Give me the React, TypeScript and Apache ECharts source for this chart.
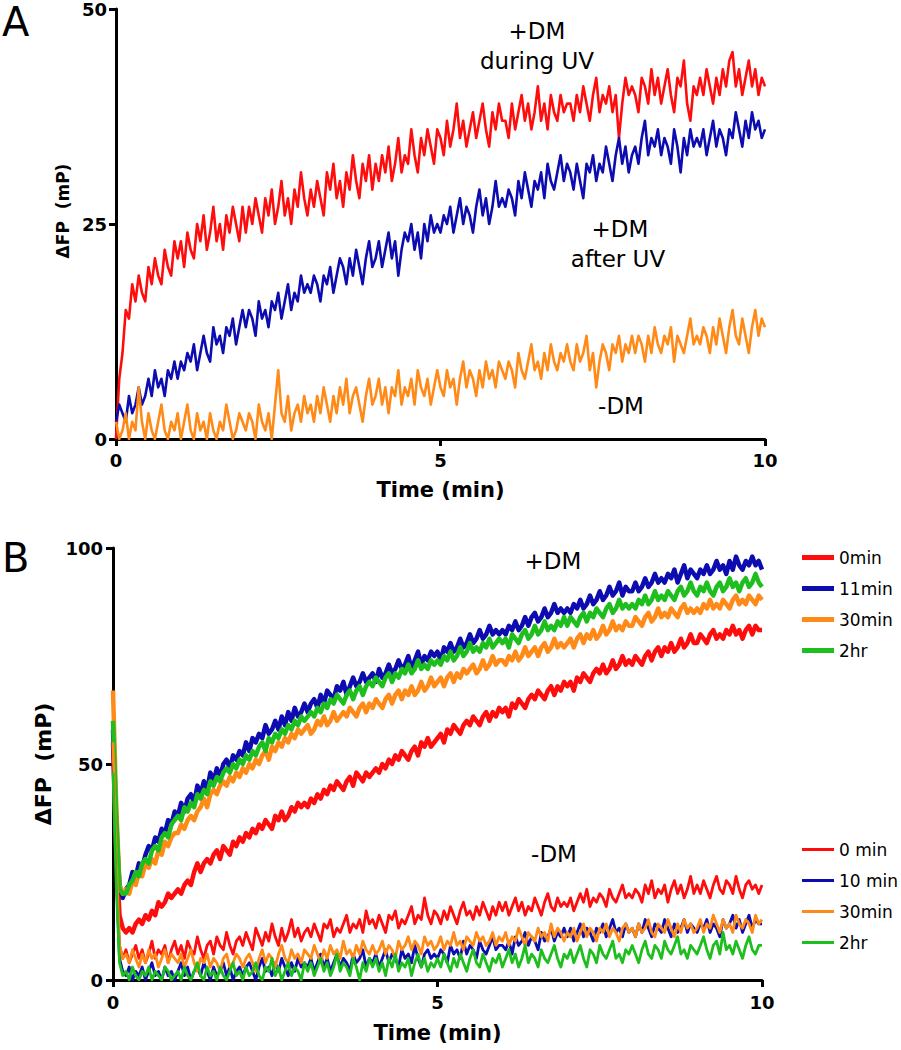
import React, { useEffect, useRef } from "react";
import * as echarts from "echarts";

// Sampling grid of the traces (minutes between readings)
const STEP_MIN = 0.05;

// Axis ticks
const X_TICKS_MIN = [0, 5, 10];
const A_Y_TICKS = [0, 25, 50];
const B_Y_TICKS = [0, 50, 100];

// ---------- Panel A : ΔFP (mP) traces, t = 0 .. 10 min (one row = 1 min) ----------
const A_DURING_UV = [
  0, 7, 10, 15, 14, 18, 16, 19, 17, 16, 20, 18, 21, 19, 18, 22, 20, 19, 23, 21,
  23, 20, 24, 22, 21, 25, 23, 26, 22, 24, 27, 23, 25, 22, 26, 24, 27, 25, 23, 27,
  24, 27, 25, 28, 26, 24, 28, 26, 29, 25, 27, 30, 26, 28, 25, 29, 27, 31, 28, 26,
  29, 27, 30, 28, 26, 31, 29, 32, 28, 30, 27, 31, 29, 33, 30, 28, 32, 30, 33, 29,
  32, 30, 33, 31, 34, 30, 32, 35, 31, 33, 32, 36, 33, 31, 35, 33, 36, 34, 32, 36,
  35, 33, 37, 34, 36, 39, 35, 37, 34, 36, 38, 35, 37, 39, 36, 34, 38, 36, 39, 37,
  37, 35, 39, 36, 38, 40, 37, 39, 36, 38, 41, 37, 39, 36, 40, 38, 37, 40, 38, 39,
  39, 37, 40, 38, 41, 39, 37, 40, 42, 38, 40, 39, 41, 38, 40, 35, 39, 42, 40, 41,
  40, 38, 42, 41, 39, 43, 40, 42, 39, 41, 43, 40, 38, 42, 41, 44, 39, 37, 41, 40,
  42, 40, 43, 41, 39, 42, 40, 43, 41, 44, 45, 41, 43, 40, 42, 44, 41, 43, 40, 42,
  41,
];
const A_AFTER_UV = [
  2, 4, 3, 2, 5, 3, 4, 6, 4, 5, 7, 5, 8, 6, 7, 5, 8, 7, 9, 7,
  9, 8, 10, 9, 11, 8, 10, 12, 10, 9, 13, 11, 12, 10, 13, 12, 14, 11, 13, 15,
  13, 15, 14, 12, 16, 14, 15, 13, 16, 15, 17, 14, 16, 18, 15, 17, 16, 19, 17, 18,
  17, 19, 18, 16, 19, 18, 20, 17, 19, 21, 20, 18, 21, 19, 22, 20, 18, 21, 23, 20,
  21, 23, 20, 22, 24, 21, 23, 19, 22, 24, 23, 25, 22, 24, 21, 25, 23, 26, 24, 25,
  24, 26, 25, 27, 24, 26, 28, 25, 27, 26, 24, 27, 29, 26, 28, 25, 27, 30, 27, 28,
  27, 29, 28, 26, 30, 28, 31, 29, 27, 30, 29, 31, 28, 32, 30, 29, 31, 33, 30, 32,
  31, 29, 32, 30, 28, 32, 31, 33, 30, 32, 31, 34, 32, 30, 33, 35, 32, 34, 31, 33,
  34, 32, 35, 37, 33, 35, 34, 36, 33, 35, 34, 32, 36, 34, 31, 35, 33, 36, 34, 35,
  34, 36, 33, 35, 37, 34, 36, 35, 33, 36, 35, 38, 36, 34, 37, 35, 38, 36, 37, 35,
  36,
];
const A_NO_DM = [
  2, 0, 1, 3, 0, 2, 1, 6, 2, 0, 3, 1, 0, 2, 4, 1, 0, 2, 1, 3,
  0, 2, 4, 1, 0, 3, 1, 2, 0, 3, 1, 0, 2, 1, 4, 2, 0, 1, 3, 2,
  1, 3, 2, 0, 4, 2, 1, 3, 0, 4, 8, 3, 2, 5, 1, 3, 4, 2, 5, 3,
  4, 2, 5, 3, 6, 4, 2, 5, 3, 6, 4, 7, 3, 5, 6, 4, 2, 5, 7, 4,
  5, 7, 4, 6, 3, 6, 5, 8, 4, 6, 5, 7, 4, 8, 6, 5, 7, 4, 6, 8,
  6, 5, 8, 6, 7, 4, 7, 9, 6, 8, 7, 5, 8, 6, 9, 7, 8, 6, 9, 8,
  7, 9, 8, 6, 10, 8, 7, 9, 11, 8, 9, 7, 10, 8, 11, 9, 8, 10, 9, 11,
  9, 8, 11, 9, 10, 12, 8, 10, 6, 9, 11, 10, 8, 11, 10, 12, 9, 11, 10, 12,
  10, 12, 11, 9, 12, 10, 13, 11, 10, 12, 11, 13, 9, 12, 11, 10, 12, 14, 11, 12,
  11, 13, 12, 10, 13, 11, 14, 12, 10, 13, 15, 12, 11, 14, 12, 10, 13, 15, 12, 14,
  13,
];

// ---------- Panel B : +DM traces ----------
const B_DM_0MIN = [
  55, 30, 15, 12, 11, 12, 11, 13, 14, 13, 15, 14, 16, 15, 18, 17, 18, 20, 19, 20,
  21, 20, 22, 23, 22, 25, 27, 25, 27, 28, 27, 29, 30, 28, 31, 30, 29, 32, 31, 33,
  32, 34, 33, 35, 34, 36, 35, 37, 36, 35, 38, 37, 39, 37, 38, 40, 39, 41, 40, 41,
  40, 42, 41, 43, 42, 44, 43, 45, 44, 46, 45, 44, 46, 47, 45, 48, 47, 46, 48, 47,
  48, 49, 48, 50, 49, 51, 50, 52, 51, 53, 52, 51, 53, 54, 52, 55, 54, 56, 54, 55,
  56, 57, 55, 58, 57, 59, 58, 57, 59, 60, 59, 61, 60, 59, 61, 62, 60, 62, 61, 63,
  62, 63, 61, 64, 63, 65, 64, 63, 65, 66, 65, 67, 66, 65, 67, 68, 66, 68, 67, 69,
  68, 69, 67, 70, 69, 71, 70, 69, 71, 72, 71, 73, 71, 72, 74, 72, 73, 75, 73, 74,
  73, 75, 74, 73, 75, 76, 74, 76, 77, 75, 77, 76, 78, 76, 77, 79, 77, 78, 80, 78,
  78, 80, 79, 78, 80, 81, 79, 80, 79, 81, 80, 82, 80, 81, 79, 81, 82, 80, 82, 81,
  81,
];
const B_DM_11MIN = [
  58, 35, 22, 19, 21, 22, 25, 24, 27, 26, 29, 31, 30, 33, 32, 35, 34, 37, 36, 39,
  38, 41, 39, 42, 43, 41, 45, 43, 46, 44, 48, 46, 49, 47, 50, 51, 49, 52, 51, 53,
  52, 55, 53, 56, 55, 57, 56, 59, 57, 58, 60, 58, 61, 59, 62, 60, 63, 61, 62, 64,
  62, 64, 65, 63, 66, 64, 67, 66, 65, 68, 67, 69, 66, 68, 70, 68, 69, 71, 69, 70,
  71, 69, 72, 70, 71, 73, 71, 72, 74, 72, 73, 75, 72, 74, 76, 73, 75, 74, 76, 75,
  76, 74, 77, 76, 78, 76, 77, 79, 77, 78, 80, 78, 79, 81, 79, 80, 82, 80, 81, 80,
  81, 80, 82, 81, 83, 81, 82, 84, 82, 84, 85, 83, 84, 86, 84, 85, 87, 85, 86, 85,
  86, 85, 87, 86, 88, 86, 87, 89, 87, 88, 90, 88, 89, 91, 89, 90, 92, 89, 91, 90,
  90, 92, 90, 91, 93, 91, 92, 94, 92, 93, 92, 94, 93, 95, 92, 94, 96, 93, 95, 94,
  93, 95, 94, 96, 94, 95, 97, 95, 96, 94, 97, 95, 98, 96, 95, 97, 96, 98, 96, 97,
  95,
];
const B_DM_30MIN = [
  67, 40, 22, 20, 21, 20, 23, 22, 25, 24, 27, 26, 28, 27, 30, 29, 32, 31, 33, 34,
  34, 36, 35, 37, 38, 37, 39, 40, 42, 40, 43, 44, 43, 45, 46, 45, 47, 46, 48, 47,
  49, 48, 50, 49, 51, 50, 52, 53, 51, 54, 53, 55, 54, 56, 55, 57, 56, 58, 57, 58,
  59, 57, 58, 60, 59, 61, 59, 60, 62, 60, 61, 62, 61, 63, 62, 61, 63, 64, 62, 64,
  63, 65, 64, 63, 65, 66, 64, 66, 67, 65, 67, 66, 68, 66, 67, 69, 67, 68, 70, 68,
  69, 70, 68, 70, 71, 69, 71, 70, 72, 71, 72, 73, 71, 72, 74, 72, 73, 75, 73, 74,
  74, 73, 75, 74, 76, 74, 75, 77, 75, 76, 77, 75, 77, 78, 76, 77, 79, 77, 78, 77,
  78, 79, 77, 79, 80, 78, 80, 79, 81, 79, 80, 82, 80, 81, 83, 81, 82, 81, 83, 82,
  82, 84, 83, 82, 84, 85, 83, 84, 86, 84, 85, 84, 86, 85, 84, 86, 87, 85, 86, 85,
  86, 85, 87, 86, 88, 86, 87, 86, 88, 87, 86, 88, 89, 87, 88, 87, 89, 88, 87, 89,
  88,
];
const B_DM_2HR = [
  60, 38, 21, 20, 20, 22, 23, 25, 24, 27, 28, 27, 30, 31, 30, 33, 34, 33, 36, 37,
  38, 37, 40, 39, 41, 40, 43, 42, 44, 43, 46, 45, 47, 46, 48, 49, 48, 50, 49, 51,
  50, 52, 51, 53, 52, 54, 55, 53, 56, 55, 57, 56, 58, 57, 59, 58, 60, 59, 61, 60,
  61, 62, 61, 63, 62, 64, 63, 65, 64, 66, 65, 64, 66, 67, 65, 67, 68, 66, 68, 69,
  68, 70, 69, 68, 70, 71, 69, 71, 70, 72, 71, 73, 71, 72, 74, 72, 73, 72, 74, 73,
  74, 73, 75, 74, 76, 74, 75, 77, 75, 76, 78, 76, 77, 76, 78, 77, 79, 77, 78, 79,
  78, 79, 77, 80, 79, 78, 80, 81, 79, 80, 82, 80, 81, 83, 81, 82, 81, 83, 82, 84,
  82, 84, 83, 82, 84, 85, 83, 85, 84, 86, 85, 84, 86, 87, 85, 86, 88, 86, 87, 86,
  87, 86, 88, 87, 89, 87, 88, 90, 88, 89, 88, 90, 89, 88, 90, 91, 89, 90, 92, 90,
  89, 91, 90, 92, 90, 89, 91, 92, 90, 91, 93, 91, 92, 90, 92, 93, 91, 92, 94, 92,
  91,
];

// ---------- Panel B : -DM traces ----------
const B_NODM_0MIN = [
  52, 25, 8, 5, 7, 4, 6, 8, 5, 7, 4, 6, 9, 5, 7, 6, 8, 4, 7, 9,
  6, 8, 5, 9, 7, 6, 10, 7, 5, 8, 9, 6, 10, 8, 7, 11, 8, 6, 9, 10,
  8, 11, 9, 7, 12, 10, 8, 11, 9, 13, 10, 8, 12, 9, 11, 14, 10, 12, 9, 11,
  12, 10, 13, 11, 9, 13, 12, 14, 10, 12, 11, 13, 15, 11, 13, 12, 14, 11, 16, 13,
  14, 12, 15, 13, 11, 15, 14, 16, 12, 14, 13, 15, 17, 13, 15, 14, 19, 15, 13, 16,
  15, 13, 16, 14, 17, 15, 13, 16, 18, 15, 16, 14, 17, 15, 18, 16, 14, 17, 15, 18,
  16, 18, 15, 17, 19, 16, 18, 15, 17, 16, 19, 17, 15, 18, 20, 17, 16, 19, 17, 18,
  17, 19, 16, 18, 20, 18, 21, 17, 19, 18, 20, 19, 17, 21, 19, 18, 20, 22, 19, 20,
  19, 21, 20, 18, 22, 20, 23, 19, 21, 20, 22, 18, 21, 23, 20, 22, 19, 21, 24, 20,
  22, 20, 23, 21, 19, 22, 24, 21, 20, 23, 22, 20, 24, 21, 19, 22, 23, 21, 22, 20,
  22,
];
const B_NODM_10MIN = [
  50, 25, 5, 2, 1, 3, 0, 2, 1, 3, 0, 2, 4, 1, 2, 0, 3, 1, 2, 0,
  2, 4, 1, 3, 0, 2, 3, 1, 4, 2, 0, 3, 1, 2, 4, 1, 3, 0, 2, 3,
  1, 3, 4, 2, 0, 3, 5, 2, 3, 1, 4, 2, 5, 3, 1, 4, 2, 5, 3, 4,
  3, 5, 2, 4, 6, 3, 5, 2, 4, 6, 3, 5, 4, 2, 6, 4, 5, 7, 3, 5,
  4, 6, 3, 5, 7, 4, 6, 5, 3, 7, 5, 6, 4, 8, 5, 3, 6, 7, 5, 6,
  5, 7, 6, 4, 8, 6, 7, 5, 9, 6, 8, 7, 5, 9, 7, 6, 8, 10, 7, 8,
  8, 7, 9, 6, 10, 8, 9, 11, 8, 10, 9, 7, 11, 9, 10, 12, 9, 11, 10, 12,
  10, 12, 9, 11, 13, 10, 12, 11, 9, 12, 11, 13, 10, 12, 14, 11, 12, 10, 13, 11,
  12, 10, 13, 11, 14, 12, 10, 13, 12, 11, 14, 12, 10, 13, 11, 12, 14, 11, 13, 12,
  11, 13, 12, 14, 11, 13, 12, 10, 14, 12, 13, 15, 12, 14, 11, 13, 15, 12, 14, 13,
  13,
];
const B_NODM_30MIN = [
  55, 28, 8, 5, 6, 4, 7, 5, 3, 6, 4, 7, 5, 6, 3, 5, 7, 4, 6, 5,
  4, 6, 3, 5, 7, 4, 2, 5, 4, 6, 3, 5, 4, 2, 5, 6, 3, 4, 6, 5,
  3, 5, 6, 4, 2, 5, 7, 4, 6, 5, 3, 6, 8, 5, 4, 7, 5, 6, 4, 7,
  6, 5, 8, 6, 4, 7, 5, 8, 6, 7, 5, 9, 6, 7, 5, 8, 6, 9, 7, 6,
  8, 6, 7, 9, 6, 8, 7, 5, 9, 7, 8, 10, 7, 9, 8, 6, 10, 8, 9, 7,
  8, 10, 7, 9, 8, 11, 8, 9, 7, 10, 9, 8, 11, 9, 10, 8, 9, 11, 8, 10,
  9, 11, 8, 10, 9, 12, 10, 8, 11, 10, 9, 12, 10, 11, 9, 13, 10, 12, 11, 9,
  11, 10, 12, 9, 11, 13, 10, 12, 11, 9, 12, 11, 13, 10, 12, 11, 9, 12, 13, 11,
  12, 10, 13, 11, 12, 14, 11, 10, 13, 12, 11, 14, 12, 10, 13, 11, 14, 12, 13, 11,
  12, 14, 11, 13, 12, 15, 13, 11, 14, 12, 13, 11, 15, 13, 12, 14, 13, 11, 15, 13,
  14,
];
const B_NODM_2HR = [
  48, 22, 4, 1, 2, 0, 3, 1, 0, 2, 1, 3, 0, 2, 1, 0, 3, 2, 0, 1,
  2, 0, 3, 1, 0, 2, 4, 1, 0, 3, 1, 2, 0, 3, 1, 0, 2, 4, 1, 2,
  0, 3, 1, 2, 4, 1, 0, 3, 2, 5, 1, 3, 0, 2, 4, 1, 3, 2, 0, 4,
  2, 4, 1, 3, 5, 2, 4, 1, 3, 6, 2, 4, 3, 1, 5, 3, 0, 4, 2, 5,
  3, 5, 2, 4, 1, 5, 3, 6, 2, 4, 3, 5, 1, 4, 6, 3, 5, 2, 4, 3,
  5, 3, 6, 4, 2, 5, 3, 6, 4, 2, 5, 7, 4, 3, 6, 4, 2, 5, 4, 6,
  3, 5, 7, 4, 6, 3, 5, 8, 4, 6, 5, 3, 7, 5, 4, 6, 8, 5, 3, 6,
  5, 7, 4, 6, 8, 5, 3, 7, 6, 4, 8, 6, 5, 7, 9, 5, 6, 4, 7, 6,
  8, 6, 4, 7, 9, 6, 5, 8, 7, 5, 9, 7, 6, 8, 10, 6, 7, 5, 8, 7,
  6, 8, 10, 7, 5, 8, 9, 6, 11, 7, 8, 6, 9, 7, 5, 8, 10, 7, 6, 8,
  8,
];

const A_SERIES = [
  { name: "+DM during UV", values: A_DURING_UV, color: "#ff0d0d" },
  { name: "+DM after UV", values: A_AFTER_UV, color: "#0c0cb0" },
  { name: "-DM", values: A_NO_DM, color: "#ff8a17" },
];
const B_DM_SERIES = [
  { name: "0min", values: B_DM_0MIN, color: "#ff0d0d" },
  { name: "11min", values: B_DM_11MIN, color: "#0c0cb0" },
  { name: "30min", values: B_DM_30MIN, color: "#ff8a17" },
  { name: "2hr", values: B_DM_2HR, color: "#1fbe1f" },
];
const B_NODM_SERIES = [
  { name: "0 min", values: B_NODM_0MIN, color: "#ff0d0d" },
  { name: "10 min", values: B_NODM_10MIN, color: "#0c0cb0" },
  { name: "30min", values: B_NODM_30MIN, color: "#ff8a17" },
  { name: "2hr", values: B_NODM_2HR, color: "#1fbe1f" },
];

const FONT = "'DejaVu Sans', 'Liberation Sans', sans-serif";

function toPairs(values: number[]) {
  return values.map((v, i) => [Math.round(i * STEP_MIN * 100) / 100, v]);
}

function axisCommon(fontSize: number, margin: number) {
  return {
    axisLine: { show: true, onZero: false, lineStyle: { color: "#000", width: 3 } },
    axisTick: { show: true, inside: false, length: 7, lineStyle: { color: "#000", width: 3 } },
    axisLabel: { show: true, color: "#000", fontFamily: FONT, fontWeight: "bold", fontSize, margin },
    splitLine: { show: false },
  };
}

function text(x: number, y: number, str: string, size: number, align = "center") {
  return {
    type: "text",
    x,
    y,
    silent: true,
    style: {
      text: str,
      fill: "#000",
      font: `normal ${size}px ${FONT}`,
      align,
      verticalAlign: "middle",
    },
  };
}

export default function App() {
  const ref = useRef<HTMLDivElement>(null);

  useEffect(() => {
    if (!ref.current) return;
    const chart = echarts.init(ref.current, null, { renderer: "svg" });

    const mkSeries = (s: { name: string; values: number[]; color: string }, gi: number, width: number) => ({
      type: "line",
      name: s.name,
      xAxisIndex: gi,
      yAxisIndex: gi,
      data: toPairs(s.values),
      symbol: "none",
      showSymbol: false,
      color: s.color,
      itemStyle: { color: s.color },
      lineStyle: { color: s.color, width, join: "round" },
      clip: true,
      silent: true,
      emphasis: { disabled: true },
    });

    const legendCommon = {
      orient: "vertical",
      left: 802,
      itemWidth: 32,
      itemGap: 14,
      icon: "rect",
      selectedMode: false,
      padding: 0,
      textStyle: { fontFamily: FONT, fontSize: 17, color: "#000" },
    };

    const xName = {
      name: "Time (min)",
      nameLocation: "middle",
      nameTextStyle: { fontFamily: FONT, fontWeight: "bold", fontSize: 21, color: "#000" },
    };

    chart.setOption({
      animation: false,
      backgroundColor: "#fff",
      grid: [
        { left: 116, top: 8, width: 649, height: 431, containLabel: false },
        { left: 113, top: 548, width: 649, height: 432, containLabel: false },
      ],
      xAxis: [
        {
          gridIndex: 0, type: "value", min: X_TICKS_MIN[0], max: X_TICKS_MIN[2], interval: X_TICKS_MIN[1] - X_TICKS_MIN[0],
          ...axisCommon(18, 12), ...xName, nameGap: 40,
        },
        {
          gridIndex: 1, type: "value", min: X_TICKS_MIN[0], max: X_TICKS_MIN[2], interval: X_TICKS_MIN[1] - X_TICKS_MIN[0],
          ...axisCommon(18, 13), ...xName, nameGap: 42,
        },
      ],
      yAxis: [
        {
          gridIndex: 0, type: "value", min: A_Y_TICKS[0], max: A_Y_TICKS[2], interval: A_Y_TICKS[1], ...axisCommon(18, 9),
          name: "ΔFP  (mP)", nameLocation: "middle", nameRotate: 90, nameGap: 44,
          nameTextStyle: { fontFamily: FONT, fontWeight: "bold", fontSize: 17, color: "#000", padding: [0, 0, 0, 26] },
        },
        {
          gridIndex: 1, type: "value", min: B_Y_TICKS[0], max: B_Y_TICKS[2], interval: B_Y_TICKS[1], ...axisCommon(18, 10),
          name: "ΔFP  (mP)", nameLocation: "middle", nameRotate: 90, nameGap: 54,
          nameTextStyle: { fontFamily: FONT, fontWeight: "bold", fontSize: 22, color: "#000" },
        },
      ],
      legend: [
        { ...legendCommon, top: 549, itemHeight: 5, data: B_DM_SERIES.map((s) => s.name) },
        { ...legendCommon, top: 841, itemHeight: 3, data: B_NODM_SERIES.map((s) => s.name) },
      ],
      series: [
        ...A_SERIES.map((s) => mkSeries(s, 0, 2.6)),
        ...B_DM_SERIES.map((s) => mkSeries(s, 1, 4.5)),
        ...B_NODM_SERIES.map((s) => mkSeries(s, 1, 2.8)),
      ],
      graphic: [
        text(2, 22, "A", 40, "left"),
        text(2, 558, "B", 40, "left"),
        text(537, 31, "+DM", 23),
        text(537, 61, "during UV", 23),
        text(620, 229, "+DM", 23),
        text(618, 259, "after UV", 23),
        text(621, 406, "-DM", 23),
        text(553, 561, "+DM", 23),
        text(554, 854, "-DM", 23),
      ],
    });

    return () => chart.dispose();
  }, []);

  return (
    <div
      ref={ref}
      style={{ position: "absolute", left: 0, top: 0, width: 901, height: 1050, background: "#fff" }}
    />
  );
}
